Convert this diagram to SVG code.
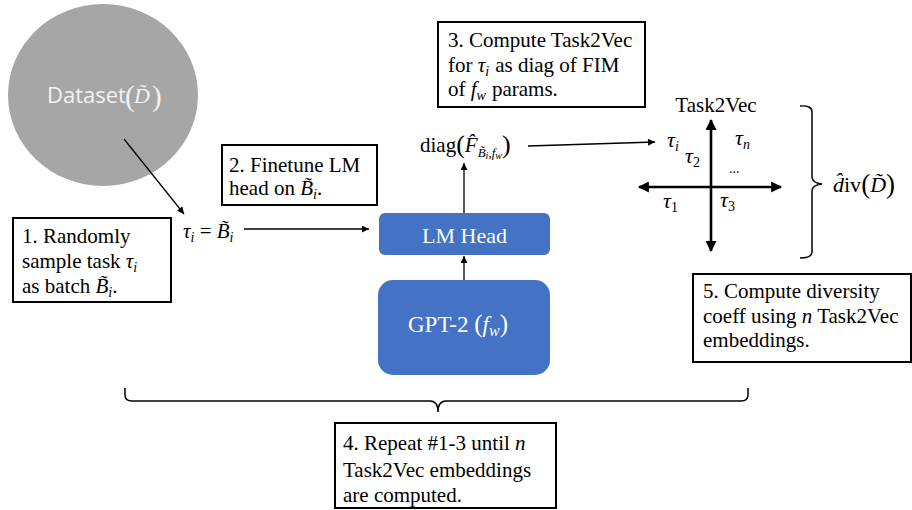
<svg xmlns="http://www.w3.org/2000/svg" width="912" height="510" viewBox="0 0 912 510">
<style>
text{font-family:"Liberation Serif","Times New Roman",serif;font-size:21px;fill:#000}
.it{font-style:italic}
.sub{font-size:14px;font-style:italic}
.box{fill:#fff;stroke:#000;stroke-width:2}
.blue{fill:#4472c4}
.wt{fill:#fff}
.ln{fill:none;stroke:#000;stroke-width:1.3}
.ax{fill:none;stroke:#000;stroke-width:2.6}
.br{fill:none;stroke:#000;stroke-width:1.5}
</style>
<defs>
<marker id="ah" viewBox="0 0 10 10" refX="10" refY="5" markerWidth="9" markerHeight="7" orient="auto" markerUnits="userSpaceOnUse"><path d="M0,0 L10,5 L0,10 z"/></marker>
<marker id="ahb" viewBox="0 0 10 10" refX="9" refY="5" markerWidth="12" markerHeight="11" orient="auto-start-reverse" markerUnits="userSpaceOnUse"><path d="M0,0 L10,5 L0,10 z"/></marker>
</defs>

<g id="dataset">
<ellipse cx="103" cy="95" rx="95" ry="91" fill="#a6a6a6"/>
<text x="47" y="103" style="font-family:'Open Sans','Liberation Sans',sans-serif;font-size:22px;fill:#f2f2f2">Dataset</text>
<text x="125" y="106" style="font-size:29px;fill:#f2f2f2">(</text>
<text x="134" y="103" class="it" style="font-size:22px;fill:#f2f2f2">D&#x303;</text>
<text x="152" y="106" style="font-size:29px;fill:#f2f2f2">)</text>
</g>

<g id="step1">
<rect class="box" x="13" y="218" width="158" height="84"/>
<text x="22" y="243">1. Randomly</text>
<text x="22" y="268">sample task <tspan class="it">τ</tspan><tspan class="sub" dy="4">i</tspan></text>
<text x="22" y="293">as batch <tspan class="it">B&#x303;</tspan><tspan class="sub" dy="4">i</tspan><tspan dy="-4">.</tspan></text>
</g>

<g id="task">
<text x="183" y="238"><tspan class="it">τ</tspan><tspan class="sub" dy="4">i</tspan><tspan dy="-4"> = </tspan><tspan class="it">B&#x303;</tspan><tspan class="sub" dy="4">i</tspan></text>
</g>

<g id="step2">
<rect class="box" x="222" y="145" width="155" height="60"/>
<text x="229" y="172">2. Finetune LM</text>
<text x="229" y="195">head on <tspan class="it">B&#x303;</tspan><tspan class="sub" dy="4">i</tspan><tspan dy="-4">.</tspan></text>
</g>

<g id="step3">
<rect class="box" x="438" y="22" width="207" height="85"/>
<text x="448" y="47">3. Compute Task2Vec</text>
<text x="448" y="72">for <tspan class="it">τ</tspan><tspan class="sub" dy="4">i</tspan><tspan dx="6" dy="-4">as diag of FIM</tspan></text>
<text x="448" y="96">of <tspan class="it">f</tspan><tspan class="sub" dy="4">w</tspan><tspan dx="6" dy="-4">params.</tspan></text>
</g>

<g id="diag">
<text x="420" y="152">diag<tspan style="font-size:26px" dy="1">(</tspan><tspan class="it" dy="-1">F&#x302;</tspan><tspan class="sub" style="font-size:13px" dy="5">B&#x303;</tspan><tspan class="sub" style="font-size:10px" dy="2">i</tspan><tspan class="sub" style="font-size:13px" dy="-2">,f</tspan><tspan class="sub" style="font-size:10px" dy="2">w</tspan><tspan style="font-size:26px" dy="-6">)</tspan></text>
</g>

<g id="lmhead">
<rect class="blue" x="379" y="213" width="171" height="42" rx="6"/>
<text x="464.5" y="243" text-anchor="middle" class="wt" style="font-size:22px">LM Head</text>
</g>

<g id="gpt2">
<rect class="blue" x="378" y="280" width="172" height="95" rx="15"/>
<text x="408" y="332" class="wt" style="font-size:23px">GPT-2 <tspan style="font-size:25px">(</tspan><tspan class="it">f</tspan><tspan class="sub" style="fill:#fff;font-size:16px" dy="4">w</tspan><tspan style="font-size:25px" dy="-4">)</tspan></text>
</g>

<g id="task2vec">
<text x="716" y="112" text-anchor="middle">Task2Vec</text>
<path class="ax" d="M711,120 V251" marker-start="url(#ahb)" marker-end="url(#ahb)"/>
<path class="ax" d="M639,187 H781" marker-start="url(#ahb)" marker-end="url(#ahb)"/>
<text x="667" y="147" style="font-size:22px"><tspan class="it">τ</tspan><tspan class="sub" dy="4">i</tspan></text>
<text x="735" y="145" style="font-size:22px"><tspan class="it">τ</tspan><tspan class="sub" dy="4">n</tspan></text>
<text x="685" y="163" style="font-size:22px"><tspan class="it">τ</tspan><tspan class="sub" style="font-style:normal" dy="4">2</tspan></text>
<text x="729" y="173" style="font-size:14px">...</text>
<text x="663" y="208" style="font-size:22px"><tspan class="it">τ</tspan><tspan class="sub" style="font-style:normal" dy="4">1</tspan></text>
<text x="720" y="207" style="font-size:22px"><tspan class="it">τ</tspan><tspan class="sub" style="font-style:normal" dy="4">3</tspan></text>
</g>

<g id="div">
<text x="833" y="192" style="font-size:22px"><tspan class="it">d&#x302;</tspan>iv<tspan style="font-size:27px" dy="1">(</tspan><tspan class="it" dy="-1">D&#x303;</tspan><tspan style="font-size:27px" dy="1">)</tspan></text>
</g>

<g id="step5">
<rect class="box" x="693" y="274" width="218" height="88"/>
<text x="703" y="298">5. Compute diversity</text>
<text x="703" y="323">coeff using <tspan class="it">n</tspan> Task2Vec</text>
<text x="703" y="347">embeddings.</text>
</g>

<g id="step4">
<rect class="box" x="335" y="423" width="221" height="85"/>
<text x="343" y="450">4. Repeat #1-3 until <tspan class="it">n</tspan></text>
<text x="343" y="477">Task2Vec embeddings</text>
<text x="343" y="502">are computed.</text>
</g>

<g id="connectors">
<path class="ln" d="M124,139 L184,214" marker-end="url(#ah)"/>
<path class="ln" d="M244,229 H369" marker-end="url(#ah)"/>
<path class="ln" d="M464,280 V256" marker-end="url(#ah)"/>
<path class="ln" d="M464,213 V163" marker-end="url(#ah)"/>
<path class="ln" d="M528,146 L655,142" marker-end="url(#ah)"/>
<path class="br" d="M800,106 Q812,105 812,112 V177 Q812,183 822,184 Q812,185 812,191 V252 Q812,258 800,258"/>
<path class="br" d="M125,388 V395 Q125,401 132,401 H430 Q438,401 438,412 Q438,401 446,401 H741 Q748,401 748,395 V388"/>
</g>
</svg>
